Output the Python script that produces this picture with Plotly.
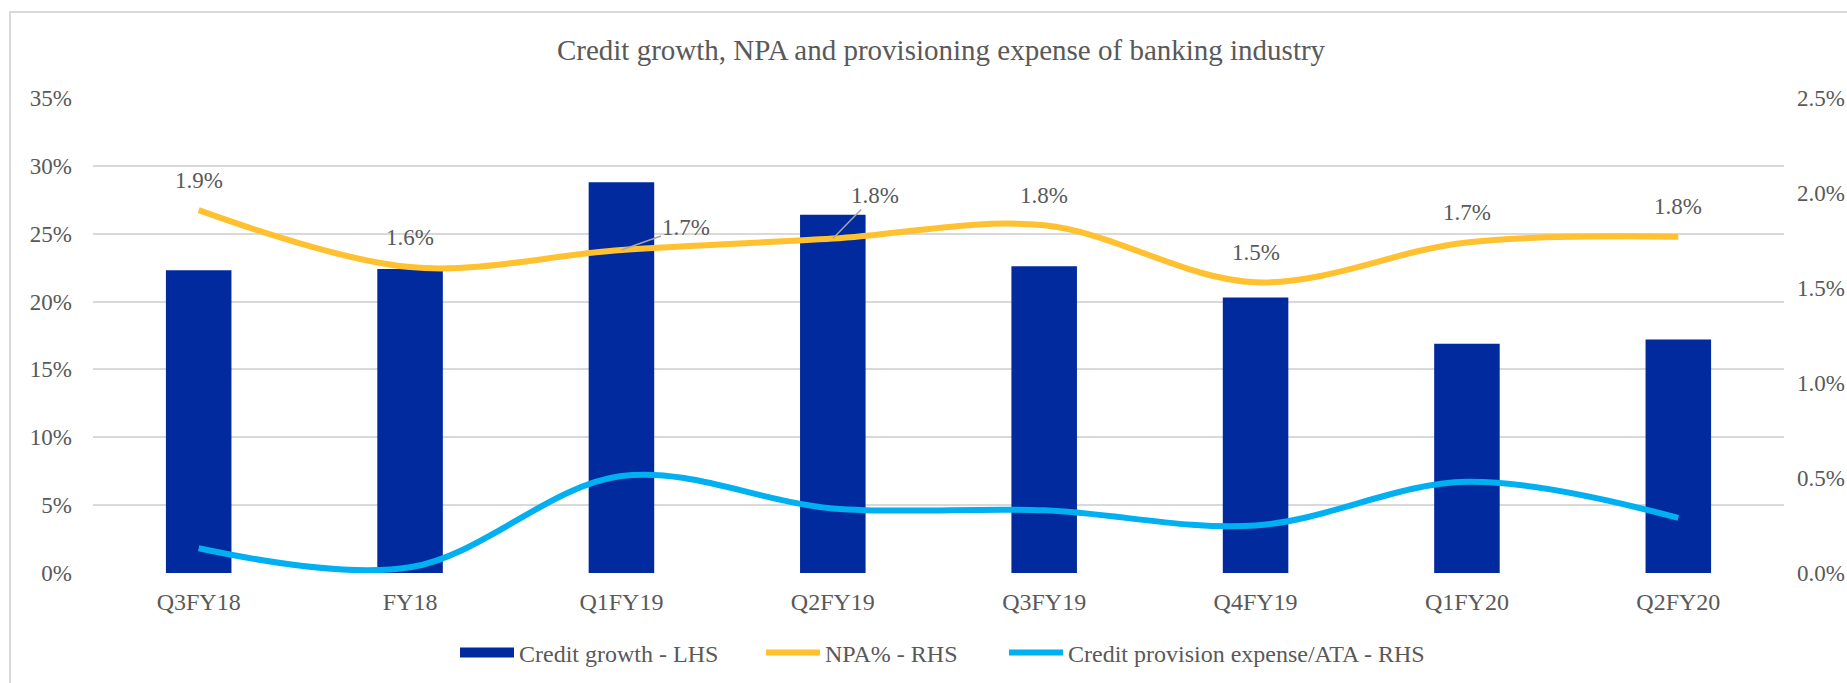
import plotly.graph_objects as go

# Quarter labels
quarters = ["Q3FY18", "FY18", "Q1FY19", "Q2FY19", "Q3FY19", "Q4FY19", "Q1FY20", "Q2FY20"]

# Credit growth (%), left axis
credit_growth = [22.3, 22.4, 28.8, 26.4, 22.6, 20.3, 16.9, 17.2]

# Gross NPA ratio (%), right axis
npa = [1.91, 1.61, 1.70, 1.76, 1.83, 1.53, 1.74, 1.77]

# Credit provision expense / average total assets (%), right axis
provision = [0.13, 0.03, 0.51, 0.34, 0.33, 0.25, 0.48, 0.29]

# Axis ticks
left_ticks = [0, 5, 10, 15, 20, 25, 30, 35]
right_ticks = [0.0, 0.5, 1.0, 1.5, 2.0, 2.5]

TEXT = "#595959"
FONT = "Liberation Serif"
BAR = "#002A9E"
GOLD = "#FFC12F"
SKY = "#00B0F0"
GRID = "#D9D9D9"
W, H = 1847, 683

fig = go.Figure()

fig.add_trace(go.Bar(
    x=quarters, y=credit_growth, name="Credit growth - LHS",
    marker=dict(color=BAR, line=dict(width=0)),
    yaxis="y", showlegend=False,
))
# Legend entry for the bars, drawn as a wide block like the line keys
fig.add_trace(go.Scatter(
    x=[None], y=[None], name="Credit growth - LHS", mode="lines",
    line=dict(color=BAR, width=12), yaxis="y", showlegend=True, legend="legend",
))
fig.add_trace(go.Scatter(
    x=quarters, y=npa, name="NPA% - RHS", mode="lines",
    line=dict(color=GOLD, width=6, shape="spline", smoothing=1),
    yaxis="y2", legend="legend2",
))
fig.add_trace(go.Scatter(
    x=quarters, y=provision, name="Credit provision expense/ATA - RHS", mode="lines",
    line=dict(color=SKY, width=6, shape="spline", smoothing=1),
    yaxis="y2", legend="legend3",
))

# NPA value labels; two of them sit off to the side with a leader line
leader = {2: (65, -23), 3: (42, -43)}
annotations = []
for i, (q, v) in enumerate(zip(quarters, npa)):
    label = f"{v:.1f}%"
    if i in leader:
        ax, ay = leader[i]
        annotations.append(dict(
            x=q, y=v, xref="x", yref="y2", text=label,
            showarrow=True, arrowhead=0, arrowwidth=1.5, arrowcolor="#A6A6A6",
            ax=ax, ay=ay, standoff=0,
            font=dict(family=FONT, size=23, color=TEXT),
        ))
    else:
        annotations.append(dict(
            x=q, y=v, xref="x", yref="y2", text=label,
            showarrow=False, yanchor="middle", yshift=30,
            font=dict(family=FONT, size=23, color=TEXT),
        ))


def legend_box(left_px):
    return dict(
        orientation="h", x=left_px / W, xref="container", xanchor="left",
        y=1 - 653 / H, yref="container", yanchor="middle",
        font=dict(family=FONT, size=24, color=TEXT),
        itemwidth=54, bgcolor="rgba(0,0,0,0)",
    )


fig.update_layout(
    width=W, height=H,
    margin=dict(l=93, r=63, t=98, b=110, autoexpand=False),
    paper_bgcolor="white", plot_bgcolor="white",
    font=dict(family=FONT, color=TEXT, size=23),
    title=dict(
        text="Credit growth, NPA and provisioning expense of banking industry",
        x=0.5095, xref="container", xanchor="center",
        y=1 - 50 / H, yref="container", yanchor="middle",
        font=dict(family=FONT, size=29, color=TEXT),
    ),
    bargap=0.69,
    xaxis=dict(
        type="category", showgrid=False, showline=False, zeroline=False,
        ticks="", tickfont=dict(size=24, color=TEXT), ticklabelstandoff=12,
        automargin=False,
    ),
    yaxis=dict(
        range=[0, 35], tickvals=left_ticks, ticktext=[f"{t}%" for t in left_ticks],
        showgrid=True, gridcolor=GRID, gridwidth=2, zeroline=False, showline=False,
        ticks="", tickfont=dict(size=23, color=TEXT), ticklabelstandoff=20,
        automargin=False,
    ),
    yaxis2=dict(
        range=[0, 2.5], overlaying="y", side="right",
        tickvals=right_ticks, ticktext=[f"{t:.1f}%" for t in right_ticks],
        showgrid=False, zeroline=False, showline=False,
        ticks="", tickfont=dict(size=23, color=TEXT), ticklabelstandoff=12,
        automargin=False,
    ),
    legend=legend_box(455),
    legend2=legend_box(761),
    legend3=legend_box(1004),
    annotations=annotations,
    showlegend=True,
)

# Outer chart frame (left and top edges visible)
fig.add_shape(type="rect", xref="paper", yref="paper",
              x0=-83 / 1691, x1=1.1, y0=-0.4, y1=(573.5 - 12) / 475.5,
              line=dict(color=GRID, width=2), fillcolor="rgba(0,0,0,0)", layer="below")

fig.write_html("out.html")
